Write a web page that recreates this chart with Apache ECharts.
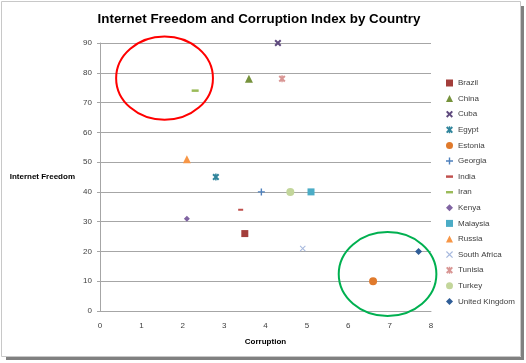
<!DOCTYPE html>
<html>
<head>
<meta charset="utf-8">
<script src="https://cdn.jsdelivr.net/npm/echarts@6/dist/echarts.min.js"></script>
<style>
html,body{margin:0;padding:0;background:#fff;}
#chart{width:526px;height:363px;}
</style>
</head>
<body>
<div id="chart"></div>
<script>
// ---- data ----
var countries = ['Brazil','China','Cuba','Egypt','Estonia','Georgia','India','Iran','Kenya','Malaysia','Russia','South Africa','Tunisia','Turkey','United Kingdom'];
var corruption = [3.5, 3.6, 4.3, 2.8, 6.6, 3.9, 3.4, 2.3, 2.1, 5.1, 2.1, 4.9, 4.4, 4.6, 7.7];
var freedom    = [26, 78, 90, 45, 10, 40, 34, 74, 31, 40, 51, 21, 78, 40, 20];
var xTicks = [0,1,2,3,4,5,6,7,8];
var yTicks = [0,10,20,30,40,50,60,70,80,90];

// ---- styles ----
var P_X = 'path://M0,2 L2,0 L5,3 L8,0 L10,2 L7,5 L10,8 L8,10 L5,7 L2,10 L0,8 L3,5 Z';
var P_XTHIN = 'path://M0,1.2 L1.2,0 L5,3.8 L8.8,0 L10,1.2 L6.2,5 L10,8.8 L8.8,10 L5,6.2 L1.2,10 L0,8.8 L3.8,5 Z';
var P_STAR = 'path://M0,2 L2,0 L5,3 L8,0 L10,2 L7,5 L10,8 L8,10 L5,7 L2,10 L0,8 L3,5 Z M4,0 H6 V10 H4 Z';
var P_PLUS = 'path://M4,0 H6 V4 H10 V6 H6 V10 H4 V6 H0 V4 H4 Z';
var P_DASH = 'path://M0,0 H10 V3.5 H0 Z';
var markerStyles = [
  {symbol:'rect', size:7, color:'#A33E3B'},
  {symbol:'triangle', size:8, color:'#76923C'},
  {symbol:P_X, size:7, color:'#5F4A7E'},
  {symbol:P_STAR, size:7, color:'#31859C'},
  {symbol:'circle', size:8, color:'#E07A2C'},
  {symbol:P_PLUS, size:7, color:'#4F81BD'},
  {symbol:P_DASH, size:[5,2], color:'#C0504D'},
  {symbol:P_DASH, size:[7,2.5], color:'#9BBB59'},
  {symbol:'diamond', size:6, color:'#8064A2'},
  {symbol:'rect', size:7, color:'#4BACC6'},
  {symbol:'triangle', size:8, color:'#F79646'},
  {symbol:P_XTHIN, size:6, color:'#A7B9DE'},
  {symbol:P_STAR, size:7, color:'#D99694'},
  {symbol:'circle', size:8, color:'#C3D69B'},
  {symbol:'diamond', size:7, color:'#2F5D97'}
];
var annotations = [
  {cx:1.56, cy:78.2, rx:1.17, ry:14.0, color:'#FF0000'},
  {cx:6.95, cy:12.4, rx:1.18, ry:14.1, color:'#00B050'}
];

var FONT = '"Liberation Sans", Arial, sans-serif';
var chart = echarts.init(document.getElementById('chart'));

var series = countries.map(function(c, i){
  var st = markerStyles[i];
  return {
    name: c,
    type: 'scatter',
    symbol: st.symbol,
    symbolSize: st.size,
    itemStyle: {color: st.color, opacity: 1},
    emphasis: {disabled: true},
    data: [[corruption[i], freedom[i]]]
  };
});

chart.setOption({
  animation: false,
  backgroundColor: '#fff',
  title: {
    text: 'Internet Freedom and Corruption Index by Country',
    left: 254, top: 8, textAlign: 'center',
    textStyle: {fontFamily: FONT, fontSize: 13.4, fontWeight: 'bold', color: '#000'}
  },
  grid: {left: 100, right: 95, top: 43, bottom: 52},
  xAxis: {
    type: 'value', min: 0, max: 8, interval: 1,
    name: 'Corruption', nameLocation: 'middle', nameGap: 27,
    nameTextStyle: {fontFamily: FONT, fontSize: 8, fontWeight: 'bold', color: '#000'},
    axisLine: {show: true, lineStyle: {color: '#A6A6A6'}},
    axisTick: {show: false},
    axisLabel: {fontFamily: FONT, fontSize: 8, color: '#404040', margin: 11,
      formatter: function(v){ return xTicks.indexOf(v) >= 0 ? String(v) : ''; }},
    splitLine: {show: false}
  },
  yAxis: {
    type: 'value', min: 0, max: 90, interval: 10,
    name: 'Internet Freedom', nameLocation: 'middle', nameGap: 25, nameRotate: 0,
    nameTextStyle: {fontFamily: FONT, fontSize: 8, fontWeight: 'bold', color: '#000', align: 'right'},
    axisLine: {show: true, lineStyle: {color: '#A6A6A6'}},
    axisTick: {show: true, length: 3, lineStyle: {color: '#A6A6A6'}},
    axisLabel: {fontFamily: FONT, fontSize: 8, color: '#404040', margin: 8,
      formatter: function(v){ return yTicks.indexOf(v) >= 0 ? String(v) : ''; }},
    splitLine: {show: true, lineStyle: {color: '#A6A6A6', width: 1}}
  },
  legend: {
    orient: 'vertical', left: 441, top: 73,
    itemWidth: 7, itemHeight: 7, itemGap: 5.6,
    textStyle: {fontFamily: FONT, fontSize: 8, color: '#404040', lineHeight: 10},
    data: countries,
    selectedMode: false
  },
  series: series
});

function drawExtras(){
  var g = [];
  annotations.forEach(function(a){
    var c = chart.convertToPixel({gridIndex:0}, [a.cx, a.cy]);
    var e = chart.convertToPixel({gridIndex:0}, [a.cx + a.rx, a.cy + a.ry]);
    g.push({type:'ellipse', shape:{cx:c[0], cy:c[1], rx:Math.abs(e[0]-c[0]), ry:Math.abs(e[1]-c[1])},
      style:{fill:null, stroke:a.color, lineWidth:2}, silent:true, z:100});
  });
  // frame with shadow
  g.push({type:'rect', shape:{x:6, y:357, width:518, height:3}, style:{fill:'#808080'}, silent:true, z:0});
  g.push({type:'rect', shape:{x:521, y:6, width:3, height:354}, style:{fill:'#808080'}, silent:true, z:0});
  g.push({type:'rect', shape:{x:1.5, y:1.5, width:519, height:355}, style:{fill:null, stroke:'#C8C8C8', lineWidth:1}, silent:true, z:1});
  chart.setOption({graphic: g});
}
drawExtras();
</script>
</body>
</html>
